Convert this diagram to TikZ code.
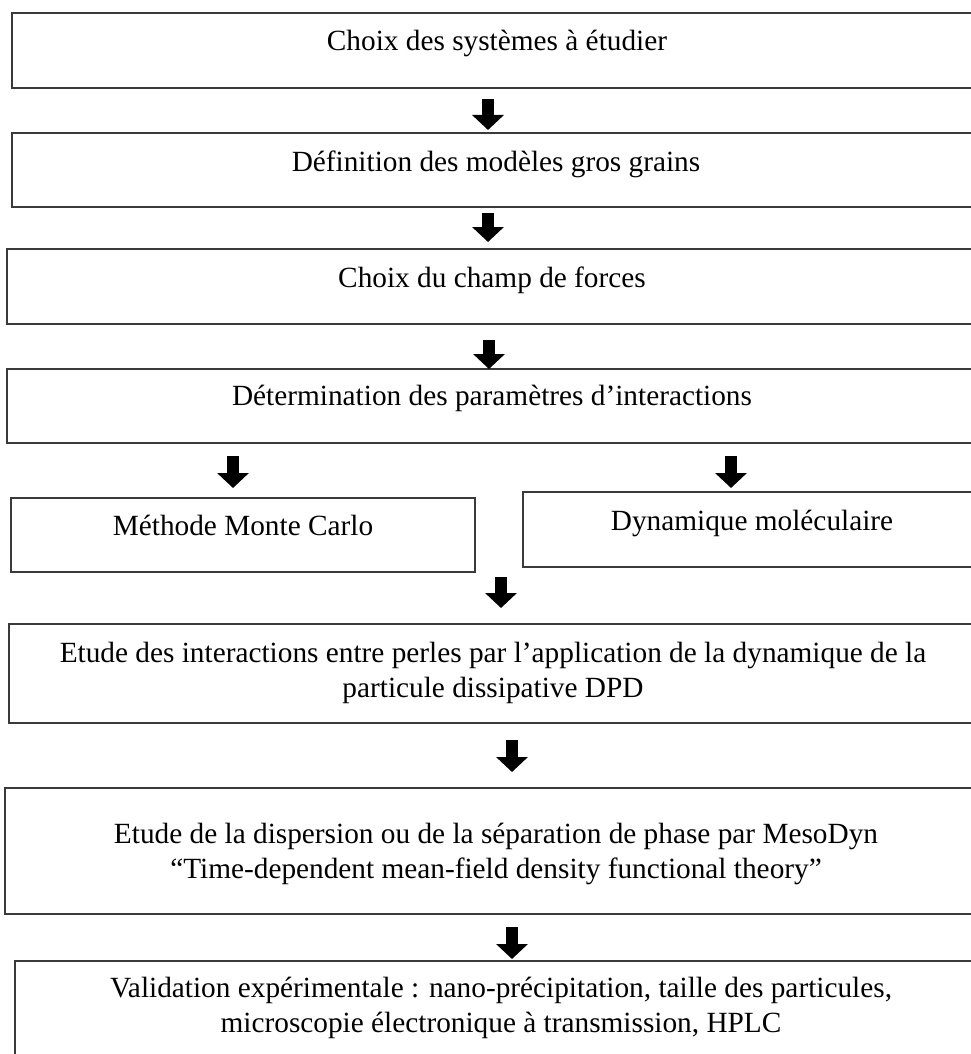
\documentclass[tikz,border=0pt]{standalone}
\usepackage{fontspec}
\setmainfont{Liberation Serif}
\usetikzlibrary{arrows.meta}
\definecolor{boxgray}{HTML}{3A3A3A}
\begin{document}
\begin{tikzpicture}[x=1pt,y=-1pt,
  box/.style={draw=boxgray, line width=1.3pt, rectangle, inner sep=0pt, outer sep=0pt, anchor=north west},
  txt/.style={font=\fontsize{29.3}{35}\selectfont, inner sep=0pt, anchor=base},
  blockarrow/.style={line width=12pt, -{Triangle[width=31pt,length=15pt]}, black}]
\useasboundingbox (0,0) rectangle (971,1054);
\fill[white] (0,0) rectangle (971,1054);
\clip (0,0) rectangle (971,1054);

% boxes
\node[box, minimum width=970pt, minimum height=75pt] (b1) at (12,13) {};
\node[box, minimum width=970pt, minimum height=74pt] (b2) at (12,133) {};
\node[box, minimum width=975pt, minimum height=75pt] (b3) at (7,249) {};
\node[box, minimum width=975pt, minimum height=74pt] (b4) at (7,369) {};
\node[box, minimum width=464pt, minimum height=74pt] (mc) at (11,498) {};
\node[box, minimum width=460pt, minimum height=75pt] (dm) at (523,492) {};
\node[box, minimum width=973pt, minimum height=99pt] (dpd) at (9,624) {};
\node[box, minimum width=977pt, minimum height=126pt] (meso) at (5,788) {};
\node[box, minimum width=967pt, minimum height=120pt] (val) at (15,961) {};

% texts
\node[txt] (t1) at (497,51) {Choix des systèmes à étudier};
\node[txt] (t2) at (496,171) {Définition des modèles gros grains};
\node[txt] (t3) at (492,287) {Choix du champ de forces};
\node[txt] (t4) at (492,405) {Détermination des paramètres d’interactions};
\node[txt] (tmc) at (243,535) {Méthode Monte Carlo};
\node[txt] (tdm) at (752,530) {Dynamique moléculaire};
\node[txt] (tdpd) at (493,662) {\begin{tabular}[t]{@{}c@{}}Etude des interactions entre perles par l’application de la dynamique de la\\ particule dissipative DPD\end{tabular}};
\node[txt] (tmeso) at (496,843) {\begin{tabular}[t]{@{}c@{}}Etude de la dispersion ou de la séparation de phase par MesoDyn\\ “Time-dependent mean-field density functional theory”\end{tabular}};
\node[txt] (tval) at (501,997) {\begin{tabular}[t]{@{}c@{}}Validation expérimentale : nano-précipitation, taille des particules,\\ microscopie électronique à transmission, HPLC\end{tabular}};

% arrow ends
\coordinate (a1s) at (488,99);  \coordinate (a1e) at (488,130);
\coordinate (a2s) at (488,213); \coordinate (a2e) at (488,242);
\coordinate (a3s) at (489,340); \coordinate (a3e) at (489,369);
\coordinate (a4s) at (233,456); \coordinate (a4e) at (233,488);
\coordinate (a5s) at (731,456); \coordinate (a5e) at (731,488);
\coordinate (a6s) at (501,577); \coordinate (a6e) at (501,608);
\coordinate (a7s) at (512,740); \coordinate (a7e) at (512,772);
\coordinate (a8s) at (512,927); \coordinate (a8e) at (512,959);

\draw[blockarrow] (a1s) -- (a1e);
\draw[blockarrow] (a2s) -- (a2e);
\draw[blockarrow] (a3s) -- (a3e);
\draw[blockarrow] (a4s) -- (a4e);
\draw[blockarrow] (a5s) -- (a5e);
\draw[blockarrow] (a6s) -- (a6e);
\draw[blockarrow] (a7s) -- (a7e);
\draw[blockarrow] (a8s) -- (a8e);
\end{tikzpicture}
\end{document}
